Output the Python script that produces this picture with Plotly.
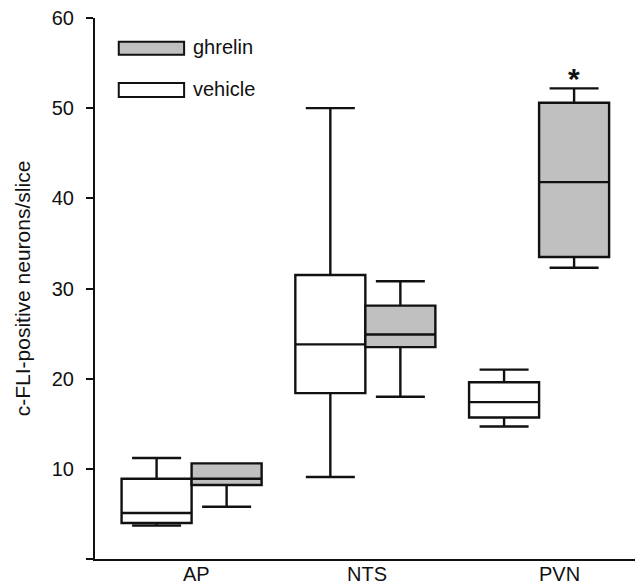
import plotly.graph_objects as go

categories = ["AP", "NTS", "PVN"]

# vehicle box statistics
veh_low = [3.7, 9.1, 14.7]
veh_q1 = [4.0, 18.4, 15.7]
veh_med = [5.1, 23.8, 17.4]
veh_q3 = [8.9, 31.5, 19.6]
veh_high = [11.2, 50.0, 21.0]

# ghrelin box statistics
ghr_low = [5.8, 18.0, 32.3]
ghr_q1 = [8.2, 23.5, 33.5]
ghr_med = [8.9, 24.9, 41.8]
ghr_q3 = [10.6, 28.1, 50.6]
ghr_high = [10.6, 30.8, 52.2]

y_ticks = [0, 10, 20, 30, 40, 50, 60]
y_ticktext = ["", "10", "20", "30", "40", "50", "60"]

FONT = "Liberation Sans, Arial, sans-serif"
INK = "#111111"
GREY = "#c0c0c0"

fig = go.Figure()
fig.add_trace(go.Box(
    name="vehicle", x=categories,
    lowerfence=veh_low, q1=veh_q1, median=veh_med, q3=veh_q3, upperfence=veh_high,
    fillcolor="white", line=dict(color=INK, width=2.4), whiskerwidth=0.7,
    showlegend=False, offsetgroup="v",
))
fig.add_trace(go.Box(
    name="ghrelin", x=categories,
    lowerfence=ghr_low, q1=ghr_q1, median=ghr_med, q3=ghr_q3, upperfence=ghr_high,
    fillcolor=GREY, line=dict(color=INK, width=2.4), whiskerwidth=0.7,
    showlegend=False, offsetgroup="g",
))

# category labels (slightly offset as in the original)
label_shift = [5, 2, 20]
for c, s in zip(categories, label_shift):
    fig.add_annotation(x=c, y=0, xref="x", yref="y", text=c, showarrow=False,
                       xshift=s, yanchor="middle", yshift=-15,
                       font=dict(family=FONT, size=20, color=INK))

# significance marker above PVN ghrelin
fig.add_annotation(x="PVN", y=ghr_high[2], xref="x", yref="y", text="<b>*</b>",
                   showarrow=False, xshift=35, yanchor="bottom", yshift=-9,
                   font=dict(family=FONT, size=30, color=INK))

# legend drawn as boxes + text
legend_items = [("ghrelin", GREY, 0.956, 0.932), ("vehicle", "white", 0.880, 0.854)]
for name, col, ytop, ybot in legend_items:
    fig.add_shape(type="rect", xref="paper", yref="paper", x0=0.044, x1=0.165,
                  y0=ybot, y1=ytop, fillcolor=col, line=dict(color=INK, width=2))
    fig.add_annotation(xref="paper", yref="paper", x=0.178, y=(ytop + ybot) / 2 + 0.002,
                       text=name, showarrow=False, xanchor="left", yanchor="middle",
                       font=dict(family=FONT, size=20, color=INK))

fig.update_layout(
    width=637, height=584,
    margin=dict(l=95, r=2, t=18, b=25, autoexpand=False),
    paper_bgcolor="white", plot_bgcolor="white",
    boxmode="group", boxgap=0.194, boxgroupgap=0,
    font=dict(family=FONT, size=20, color=INK),
    xaxis=dict(type="category", range=[-0.556, 2.552], showticklabels=False,
               showline=True, linecolor=INK, linewidth=2, ticks="",
               showgrid=False, zeroline=False, fixedrange=True, automargin=False),
    yaxis=dict(range=[0, 60], tickvals=y_ticks, ticktext=y_ticktext,
               showline=True, linecolor=INK, linewidth=2,
               ticks="outside", ticklen=7, tickwidth=2, tickcolor=INK,
               ticklabelstandoff=8, automargin=False,
               showgrid=False, zeroline=False,
               title=dict(text="c-FLI-positive neurons/slice", standoff=15,
                          font=dict(family=FONT, size=21, color=INK)),
               tickfont=dict(family=FONT, size=20, color=INK)),
)

fig.write_html(
    "out.html",
    config={"displayModeBar": False},
    post_script="document.body.style.margin='0';document.body.style.overflow='hidden';",
)
